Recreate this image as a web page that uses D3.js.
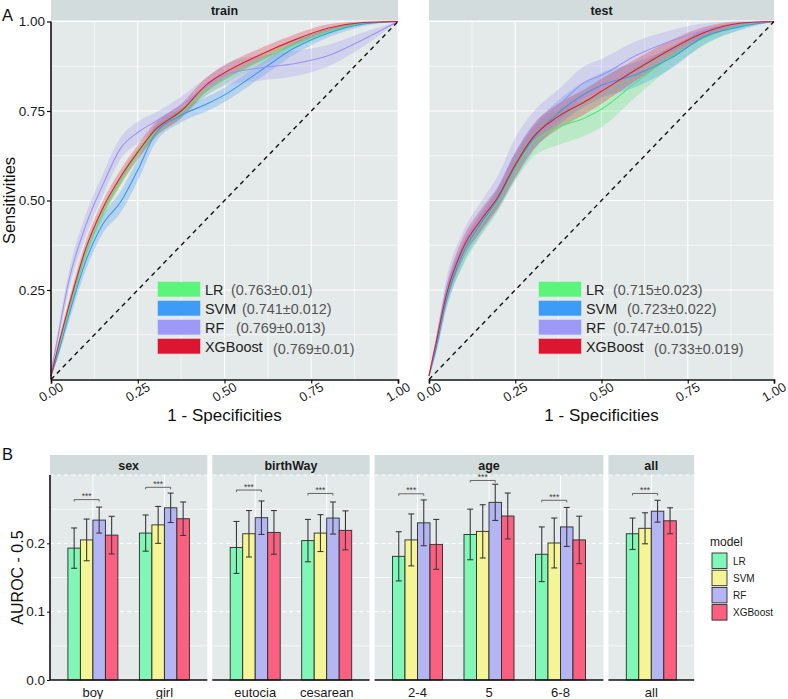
<!DOCTYPE html>
<html><head><meta charset="utf-8">
<script src="https://cdn.jsdelivr.net/npm/d3@7"></script>
<style>body{margin:0;background:#fff}svg{display:block;font-family:"Liberation Sans",Arial,Helvetica,sans-serif}</style>
</head><body><svg id="c" width="788" height="699"></svg>
<script>
// ---------- Data: ROC curves ----------
const models = ["LR", "SVM", "RF", "XGBoost"];
const fprGrid = [0, 0.02, 0.05, 0.1, 0.15, 0.2, 0.25, 0.3, 0.375, 0.45, 0.5, 0.6, 0.7, 0.8, 0.9, 1.0];

const trainLR  = [0.01, 0.08, 0.185, 0.35, 0.465, 0.555, 0.63, 0.69, 0.745, 0.81, 0.84, 0.89, 0.935, 0.972, 0.994, 1];
const trainSVM = [0.01, 0.07, 0.175, 0.33, 0.435, 0.495, 0.585, 0.685, 0.738, 0.77, 0.795, 0.86, 0.925, 0.968, 0.993, 1];
const trainRF  = [0.02, 0.12, 0.27, 0.43, 0.545, 0.645, 0.69, 0.72, 0.765, 0.82, 0.85, 0.87, 0.882, 0.905, 0.95, 1];
const trainXGB = [0.01, 0.09, 0.2, 0.365, 0.48, 0.565, 0.635, 0.697, 0.75, 0.825, 0.857, 0.906, 0.948, 0.982, 0.997, 1];

const trainLRsd  = [0, 0.01, 0.015, 0.015, 0.015, 0.015, 0.015, 0.015, 0.015, 0.015, 0.015, 0.015, 0.012, 0.008, 0.004, 0];
const trainSVMsd = [0, 0.01, 0.02, 0.025, 0.025, 0.03, 0.03, 0.025, 0.02, 0.02, 0.02, 0.02, 0.018, 0.012, 0.006, 0];
const trainRFsd  = [0, 0.015, 0.025, 0.03, 0.03, 0.03, 0.03, 0.025, 0.025, 0.025, 0.03, 0.035, 0.035, 0.03, 0.02, 0];
const trainXGBsd = [0, 0.01, 0.015, 0.02, 0.02, 0.02, 0.02, 0.02, 0.02, 0.02, 0.02, 0.018, 0.015, 0.01, 0.004, 0];

const testLR  = [0.01, 0.09, 0.225, 0.35, 0.43, 0.5, 0.59, 0.66, 0.705, 0.73, 0.755, 0.83, 0.9, 0.955, 0.988, 1];
const testSVM = [0.01, 0.085, 0.22, 0.355, 0.435, 0.505, 0.595, 0.67, 0.745, 0.797, 0.822, 0.852, 0.897, 0.958, 0.985, 1];
const testRF  = [0.01, 0.1, 0.25, 0.38, 0.455, 0.53, 0.63, 0.7, 0.765, 0.83, 0.85, 0.905, 0.945, 0.975, 0.993, 1];
const testXGB = [0.01, 0.1, 0.235, 0.37, 0.445, 0.51, 0.6, 0.675, 0.735, 0.775, 0.805, 0.865, 0.922, 0.97, 0.995, 1];

const testLRsd  = [0, 0.015, 0.025, 0.03, 0.03, 0.03, 0.035, 0.04, 0.05, 0.05, 0.05, 0.04, 0.03, 0.02, 0.01, 0];
const testSVMsd = [0, 0.015, 0.025, 0.03, 0.03, 0.03, 0.035, 0.035, 0.035, 0.035, 0.035, 0.035, 0.03, 0.02, 0.01, 0];
const testRFsd  = [0, 0.015, 0.03, 0.035, 0.04, 0.04, 0.045, 0.045, 0.045, 0.045, 0.045, 0.04, 0.03, 0.02, 0.01, 0];
const testXGBsd = [0, 0.015, 0.025, 0.03, 0.03, 0.03, 0.035, 0.035, 0.035, 0.035, 0.035, 0.03, 0.025, 0.015, 0.008, 0];

const trainAUC = ["(0.763±0.01)", "(0.741±0.012)", "(0.769±0.013)", "(0.769±0.01)"];
const testAUC  = ["(0.715±0.023)", "(0.723±0.022)", "(0.747±0.015)", "(0.733±0.019)"];
const rocTicks = [0, 0.25, 0.5, 0.75, 1];
const rocTickLabels = ["0.00", "0.25", "0.50", "0.75", "1.00"];

// ---------- Data: AUROC bars ----------
const facets = ["sex", "birthWay", "age", "all"];
const categories = ["boy", "girl", "eutocia", "cesarean", "2-4", "5", "6-8", "all"];
const catFacet = ["sex", "sex", "birthWay", "birthWay", "age", "age", "age", "all"];
const barLR  = [0.193, 0.215, 0.194, 0.204, 0.181, 0.213, 0.184, 0.214];
const barSVM = [0.205, 0.227, 0.214, 0.215, 0.205, 0.2175, 0.2005, 0.222];
const barRF  = [0.234, 0.252, 0.2375, 0.237, 0.23, 0.26, 0.224, 0.247];
const barXGB = [0.212, 0.236, 0.216, 0.219, 0.1985, 0.24, 0.205, 0.233];
const errLR  = [0.0295, 0.0265, 0.038, 0.031, 0.036, 0.037, 0.04, 0.023];
const errSVM = [0.0305, 0.027, 0.034, 0.027, 0.038, 0.039, 0.0365, 0.0227];
const errRF  = [0.019, 0.0215, 0.0245, 0.0235, 0.0335, 0.0265, 0.0285, 0.016];
const errXGB = [0.0275, 0.0245, 0.032, 0.0285, 0.0365, 0.0336, 0.0347, 0.019];
const sigY   = [0.264, 0.282, 0.278, 0.273, 0.2725, 0.292, 0.263, 0.273];
const sigLabel = "***";
const barTicks = [0, 0.1, 0.2];

// ---------- Styles ----------
const lineColors = {LR: "#4fe874", SVM: "#3a97f2", RF: "#9d92f2", XGBoost: "#df1f30"};
const keyColors  = {LR: "#5cf57c", SVM: "#3d9cf7", RF: "#9d99f7", XGBoost: "#dd1530"};
const barColors  = {LR: "#80f7b6", SVM: "#f5f596", RF: "#b3b6f2", XGBoost: "#fc6080"};
const panelBg = "#e4e9e9", stripBg = "#d3dcdc";

const svg = d3.select("#c");

// ---------- Panel A ----------
const yRoc = d3.scaleLinear().domain([0, 1]).range([379.5, 21.5]);
const panels = [
  {name: "train", x0: 51, x1: 398, data: [trainLR, trainSVM, trainRF, trainXGB], sd: [trainLRsd, trainSVMsd, trainRFsd, trainXGBsd], auc: trainAUC, leftAxis: true},
  {name: "test", x0: 429, x1: 774, data: [testLR, testSVM, testRF, testXGB], sd: [testLRsd, testSVMsd, testRFsd, testXGBsd], auc: testAUC, leftAxis: false}
];

panels.forEach(p => {
  const x = d3.scaleLinear().domain([0, 1]).range([p.x0, p.x1]);
  const g = svg.append("g");
  g.append("rect").attr("x", p.x0).attr("y", 0).attr("width", p.x1 - p.x0).attr("height", 20.5).attr("fill", stripBg);
  g.append("text").attr("x", (p.x0 + p.x1) / 2).attr("y", 11).attr("text-anchor", "middle").attr("dominant-baseline", "central")
    .attr("font-weight", "bold").attr("font-size", 12.5).attr("fill", "#1a1a1a").text(p.name);
  g.append("rect").attr("x", p.x0).attr("y", 21.5).attr("width", p.x1 - p.x0).attr("height", 358).attr("fill", panelBg);
  const minor = [0.125, 0.375, 0.625, 0.875];
  minor.forEach(v => {
    g.append("line").attr("x1", x(v)).attr("x2", x(v)).attr("y1", 21.5).attr("y2", 379.5).attr("stroke", "#fff").attr("stroke-width", 0.6);
    g.append("line").attr("y1", yRoc(v)).attr("y2", yRoc(v)).attr("x1", p.x0).attr("x2", p.x1).attr("stroke", "#fff").attr("stroke-width", 0.6);
  });
  rocTicks.forEach(v => {
    g.append("line").attr("x1", x(v)).attr("x2", x(v)).attr("y1", 21.5).attr("y2", 379.5).attr("stroke", "#fff").attr("stroke-width", 1.1);
    g.append("line").attr("y1", yRoc(v)).attr("y2", yRoc(v)).attr("x1", p.x0).attr("x2", p.x1).attr("stroke", "#fff").attr("stroke-width", 1.1);
  });
  // ribbons
  models.forEach((m, i) => {
    const pts = fprGrid.map((f, k) => ({f, y: p.data[i][k], lo: Math.max(0, p.data[i][k] - p.sd[i][k]), hi: Math.min(1, p.data[i][k] + p.sd[i][k])}));
    const area = d3.area().x(d => x(d.f)).y0(d => yRoc(d.lo)).y1(d => yRoc(d.hi)).curve(d3.curveMonotoneX);
    g.append("path").attr("d", area(pts)).attr("fill", lineColors[m]).attr("fill-opacity", 0.28);
  });
  models.forEach((m, i) => {
    const pts = fprGrid.map((f, k) => ({f, y: p.data[i][k]}));
    const line = d3.line().x(d => x(d.f)).y(d => yRoc(d.y)).curve(d3.curveMonotoneX);
    g.append("path").attr("d", line(pts)).attr("fill", "none").attr("stroke", lineColors[m]).attr("stroke-width", 1.1);
  });
  // diagonal
  g.append("line").attr("x1", x(0)).attr("y1", yRoc(0)).attr("x2", x(1)).attr("y2", yRoc(1))
    .attr("stroke", "#111").attr("stroke-width", 1.4).attr("stroke-dasharray", "4.5,4");
  // axes
  const xa = g.append("g").attr("transform", "translate(0,379.5)")
    .call(d3.axisBottom(x).tickValues(rocTicks).tickSize(4).tickFormat(""));
  xa.select(".domain").attr("stroke", "#111").attr("stroke-width", 1.6);
  xa.selectAll(".tick line").attr("stroke", "#111").attr("stroke-width", 1.2);
  rocTicks.forEach((v, k) => {
    g.append("text").attr("transform", `translate(${x(v)},${392}) rotate(-30)`).attr("text-anchor", "middle")
      .attr("dominant-baseline", "central").attr("font-size", 13).attr("fill", "#1a1a1a").text(rocTickLabels[k]);
  });
  g.append("text").attr("x", (p.x0 + p.x1) / 2).attr("y", 421).attr("text-anchor", "middle").attr("font-size", 17).attr("fill", "#111").text("1 - Specificities");
  if (p.leftAxis) {
    const ya = g.append("g").attr("transform", `translate(${p.x0},0)`)
      .call(d3.axisLeft(yRoc).tickValues(rocTicks.slice(1)).tickSize(4).tickFormat((d, k) => rocTickLabels[k + 1]));
    ya.select(".domain").attr("stroke", "#111").attr("stroke-width", 1.6).attr("d", `M0,${yRoc(1)}V${yRoc(0)}`);
    ya.selectAll(".tick line").attr("stroke", "#111").attr("stroke-width", 1.2);
    ya.selectAll(".tick text").attr("font-size", 13.5).attr("fill", "#1a1a1a").attr("font-family", "Liberation Sans, Arial, sans-serif").attr("x", -6);
  }
  // legend inside panel
  const lx = p.name === "train" ? 158 : 539;
  const numX = p.name === "train" ? [231, 242, 236, 273] : [613, 627, 613, 654];
  models.forEach((m, i) => {
    const yy = 282 + i * 19;
    g.append("rect").attr("x", lx).attr("y", yy).attr("width", 42).attr("height", 14.5)
      .attr("fill", keyColors[m]).attr("stroke", keyColors[m]).attr("stroke-opacity", 0.4).attr("stroke-width", 1.2);
    g.append("text").attr("x", lx + 47).attr("y", yy + 8).attr("dominant-baseline", "central").attr("font-size", 14.4).attr("fill", "#222").text(m);
    g.append("text").attr("x", numX[i]).attr("y", yy + 8 + (i === 3 ? 2 : 0)).attr("dominant-baseline", "central").attr("font-size", 14.4).attr("fill", "#555").text(p.auc[i]);
  });
});
svg.append("text").attr("transform", "translate(15,200.5) rotate(-90)").attr("text-anchor", "middle").attr("font-size", 16.5).attr("fill", "#111").text("Sensitivities");
svg.append("text").attr("x", 2).attr("y", 21).attr("font-size", 16.5).attr("fill", "#111").text("A");

// ---------- Panel B ----------
svg.append("text").attr("x", 2).attr("y", 460).attr("font-size", 16.5).attr("fill", "#111").text("B");
const yBar = d3.scaleLinear().domain([0, 0.3]).range([680, 475]);
const barVals = {LR: barLR, SVM: barSVM, RF: barRF, XGBoost: barXGB};
const barErr = {LR: errLR, SVM: errSVM, RF: errRF, XGBoost: errXGB};
const unit = 71.5, gap = 5;
let fx = 50;
facets.forEach((f, fi) => {
  const cats = categories.filter((c, i) => catFacet[i] === f);
  const w = (cats.length - 1 + 1.2) * unit;
  const x0 = fx, x1 = fx + w;
  fx = x1 + gap;
  const x = d3.scalePoint().domain(cats).range([x0, x1]).padding(0.6);
  const inner = d3.scaleBand().domain(models).range([-25, 25]);
  const g = svg.append("g");
  g.append("rect").attr("x", x0).attr("y", 455).attr("width", w).attr("height", 20).attr("fill", stripBg);
  g.append("text").attr("x", (x0 + x1) / 2).attr("y", 466).attr("text-anchor", "middle").attr("dominant-baseline", "central")
    .attr("font-weight", "bold").attr("font-size", 12.5).attr("fill", "#1a1a1a").text(f);
  g.append("rect").attr("x", x0).attr("y", 475).attr("width", w).attr("height", 205).attr("fill", panelBg);
  [0.05, 0.15, 0.25].forEach(v => g.append("line").attr("x1", x0).attr("x2", x1).attr("y1", yBar(v)).attr("y2", yBar(v)).attr("stroke", "#fff").attr("stroke-width", 0.7));
  [0.1, 0.2, 0.3].forEach(v => g.append("line").attr("x1", x0).attr("x2", x1).attr("y1", yBar(v)).attr("y2", yBar(v)).attr("stroke", "#fff").attr("stroke-width", 1).attr("stroke-dasharray", "4,3"));
  cats.forEach(c => g.append("line").attr("x1", x(c)).attr("x2", x(c)).attr("y1", 475).attr("y2", 680).attr("stroke", "#fff").attr("stroke-width", 1));
  cats.forEach(c => {
    const ci = categories.indexOf(c);
    models.forEach(m => {
      const bx = x(c) + inner(m);
      g.append("rect").attr("x", bx).attr("y", yBar(barVals[m][ci])).attr("width", inner.bandwidth()).attr("height", yBar(0) - yBar(barVals[m][ci]))
        .attr("fill", barColors[m]).attr("stroke", "#2a2a2a").attr("stroke-width", 0.9);
    });
    models.forEach(m => {
      const cx = x(c) + inner(m) + inner.bandwidth() / 2;
      const v = barVals[m][ci], e = barErr[m][ci];
      const eg = g.append("g").attr("stroke", "#3a3a3a").attr("stroke-width", 1.1);
      eg.append("line").attr("x1", cx).attr("x2", cx).attr("y1", yBar(v + e)).attr("y2", yBar(v - e));
      eg.append("line").attr("x1", cx - 3).attr("x2", cx + 3).attr("y1", yBar(v + e)).attr("y2", yBar(v + e));
      eg.append("line").attr("x1", cx - 3).attr("x2", cx + 3).attr("y1", yBar(v - e)).attr("y2", yBar(v - e));
    });
    // significance bracket LR vs RF
    const bxa = x(c) + inner("LR") + inner.bandwidth() / 2, bxb = x(c) + inner("RF") + inner.bandwidth() / 2;
    const by = yBar(sigY[ci]);
    g.append("path").attr("d", `M${bxa},${by + 2}V${by}H${bxb}V${by + 2}`).attr("fill", "none").attr("stroke", "#444").attr("stroke-width", 0.8);
    g.append("text").attr("x", (bxa + bxb) / 2).attr("y", by - 0.5).attr("text-anchor", "middle").attr("font-size", 8.5).attr("fill", "#444").text(sigLabel);
    g.append("text").attr("x", x(c)).attr("y", 692).attr("text-anchor", "middle").attr("dominant-baseline", "central").attr("font-size", 13).attr("fill", "#1a1a1a").text(c);
  });
  g.append("line").attr("x1", x0).attr("x2", x1).attr("y1", 680).attr("y2", 680).attr("stroke", "#111").attr("stroke-width", 1.6);
  if (fi === 0) {
    const ya = g.append("g").attr("transform", `translate(${x0},0)`)
      .call(d3.axisLeft(yBar).tickValues(barTicks).tickSize(3).tickFormat(d3.format(".1f")));
    ya.select(".domain").attr("stroke", "#111").attr("stroke-width", 1.6).attr("d", `M0,475V680`);
    ya.selectAll(".tick line").attr("stroke", "#111");
    ya.selectAll(".tick text").attr("font-size", 13.5).attr("fill", "#1a1a1a").attr("font-family", "Liberation Sans, Arial, sans-serif").attr("x", -5);
  }
});
svg.append("text").attr("transform", "translate(23,577.5) rotate(-90)").attr("text-anchor", "middle").attr("font-size", 16).attr("fill", "#111").text("AUROC - 0.5");

// legend
const lg = svg.append("g");
lg.append("text").attr("x", 710).attr("y", 546).attr("font-size", 12).attr("fill", "#1a1a1a").text("model");
models.forEach((m, i) => {
  const yy = 553 + i * 17.2;
  lg.append("rect").attr("x", 712).attr("y", yy).attr("width", 15).attr("height", 15.5).attr("fill", barColors[m]).attr("stroke", "#2a2a2a").attr("stroke-width", 0.9);
  lg.append("text").attr("x", 733).attr("y", yy + 8).attr("dominant-baseline", "central").attr("font-size", 10).attr("fill", "#1a1a1a").text(m);
});
</script></body></html>
